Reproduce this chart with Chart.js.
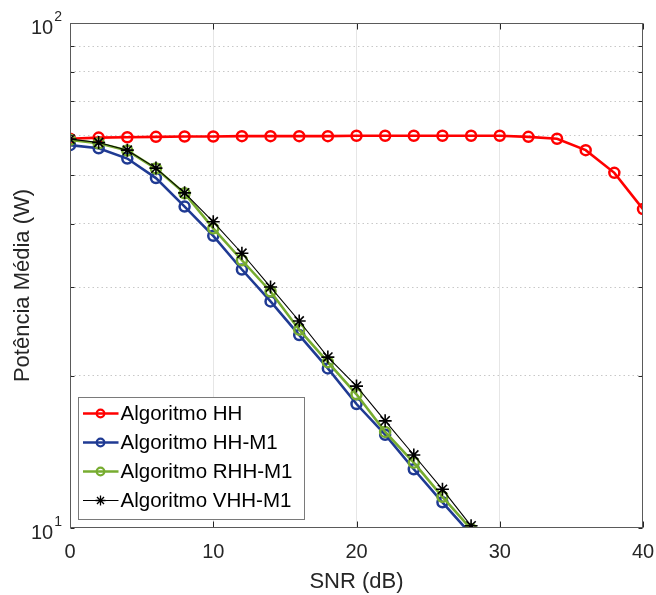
<!DOCTYPE html>
<html><head><meta charset="utf-8">
<script src="https://cdn.jsdelivr.net/npm/chart.js@4/dist/chart.umd.min.js"></script>
<style>html,body{margin:0;padding:0;background:#fff}canvas{display:block}</style>
</head><body>
<canvas id="c" width="656" height="595"></canvas>
<script>
// ---- data ----
const snrHH = [0,2,4,6,8,10,12,14,16,18,20,22,24,26,28,30,32,34,36,38,40];
const potHH = [59.0,59.3,59.4,59.5,59.6,59.6,59.7,59.7,59.7,59.7,59.8,59.8,59.8,59.8,59.8,59.8,59.5,59.0,56.0,50.5,42.8];
const snrM1 = [0,2,4,6,8,10,12,14,16,18,20,22,24,26,28];
const potHHM1  = [57.3,56.5,53.9,49.3,43.3,37.9,32.5,28.1,24.1,20.7,17.6,15.3,13.07,11.24,9.71];
const potRHHM1 = [58.7,57.8,55.9,51.5,46.0,39.2,33.9,29.4,24.7,21.3,18.4,15.5,13.47,11.53,9.95];
const potVHHM1 = [58.9,58.0,56.0,51.6,46.1,40.4,35.0,30.0,25.7,21.8,19.1,16.3,13.95,11.93,10.1];
const seriesNames = ['Algoritmo HH','Algoritmo HH-M1','Algoritmo RHH-M1','Algoritmo VHH-M1'];
const xTickValues = [0,10,20,30,40];
const yTickValues = [10,20,30,40,50,60,70,80,90,100];
const yLabelTicks = [10,100];
const yLabelBase = '10';
const yLabelExp = {10:'1', 100:'2'};
const xTitle = 'SNR (dB)';
const yTitle = 'Potência Média (W)';

const FONT = "'Liberation Sans', Arial, Helvetica, sans-serif";
const AXIS = '#262626';
const colors = ['#ff0000','#1f3a93','#77ac30','#000000'];

function pts(xs, ys){ return xs.map((x,i)=>({x:x, y:ys[i]})); }

const circleSet = (i) => ({
  borderColor: colors[i], backgroundColor: colors[i], borderWidth: 2.6,
  pointStyle: 'circle', pointRadius: 5, pointBorderWidth: 2.5,
  pointBackgroundColor: 'rgba(0,0,0,0)', pointBorderColor: colors[i]
});

const datasets = [
  Object.assign({label: seriesNames[0], data: pts(snrHH, potHH), order: 3}, circleSet(0)),
  Object.assign({label: seriesNames[1], data: pts(snrM1, potHHM1), order: 2}, circleSet(1)),
  Object.assign({label: seriesNames[2], data: pts(snrM1, potRHHM1), order: 1}, circleSet(2)),
  {label: seriesNames[3], data: pts(snrM1, potVHHM1), order: 0,
   borderColor: colors[3], backgroundColor: colors[3], borderWidth: 1.1,
   pointStyle: 'star', pointRadius: 6.5, pointBorderWidth: 1.6,
   pointBorderColor: colors[3], pointBackgroundColor: colors[3]}
];

const framePlugin = {
  id: 'frame',
  afterDatasetsDraw(chart){
    const ctx = chart.ctx, a = chart.chartArea;
    const xs = chart.scales.x, ys = chart.scales.y;
    ctx.save();
    ctx.strokeStyle = AXIS; ctx.lineWidth = 1;
    const L = Math.round(a.left)+0.5, R = Math.round(a.right)-0.5, T = Math.round(a.top)+0.5, B = Math.round(a.bottom)-0.5;
    ctx.beginPath();
    xTickValues.forEach(v => {
      const px = Math.round(xs.getPixelForValue(v)) + 0.5;
      ctx.moveTo(px, B); ctx.lineTo(px, B-6);
      ctx.moveTo(px, T); ctx.lineTo(px, T+6);
    });
    yTickValues.forEach(v => {
      const py = Math.round(ys.getPixelForValue(v)) + 0.5;
      ctx.moveTo(L, py); ctx.lineTo(L+4, py);
      ctx.moveTo(R, py); ctx.lineTo(R-4, py);
    });
    ctx.stroke();
    ctx.strokeStyle = '#5a5a5a';
    ctx.strokeRect(L, T, R-L, B-T);
    ctx.restore();
  },
  afterDraw(chart){
    const ctx = chart.ctx, a = chart.chartArea, ys = chart.scales.y;
    ctx.save();
    ctx.fillStyle = AXIS;
    ctx.textBaseline = 'middle';
    // y tick labels: base with superscript exponent
    yLabelTicks.forEach(v => {
      const py = ys.getPixelForValue(v);
      ctx.font = '14px ' + FONT;
      ctx.textAlign = 'right';
      const expW = ctx.measureText(yLabelExp[v]).width;
      const rightEdge = a.left - 8;
      ctx.fillText(yLabelExp[v], rightEdge, py - 6);
      ctx.font = '20px ' + FONT;
      ctx.fillText(yLabelBase, rightEdge - expW - 1, py + 5);
    });
    // y axis title
    ctx.font = '22px ' + FONT;
    ctx.textAlign = 'center';
    ctx.translate(23, (a.top + a.bottom) / 2 + 10);
    ctx.rotate(-Math.PI / 2);
    ctx.fillText(yTitle, 0, 0);
    ctx.restore();
  }
};

const legendPlugin = {
  id: 'boxLegend',
  afterDraw(chart){
    const ctx = chart.ctx, a = chart.chartArea;
    const left = Math.round(a.left) + 8.5, bottom = Math.round(a.bottom) - 8.5;
    const top = bottom - 122, right = left + 226;
    ctx.save();
    ctx.fillStyle = '#ffffff';
    ctx.fillRect(left, top, right-left, bottom-top);
    ctx.strokeStyle = '#7a7a7a'; ctx.lineWidth = 1;
    ctx.strokeRect(left, top, right-left, bottom-top);
    ctx.font = '20.5px ' + FONT;
    ctx.textBaseline = 'middle'; ctx.textAlign = 'left';
    chart.data.datasets.forEach((ds, i) => {
      const y = top + 16 + i*29;
      ctx.strokeStyle = ds.borderColor; ctx.lineWidth = ds.borderWidth;
      ctx.beginPath(); ctx.moveTo(left+4.5, y); ctx.lineTo(left+40, y); ctx.stroke();
      ctx.lineWidth = ds.pointStyle === 'star' ? 1.3 : 2.2;
      ctx.fillStyle = ds.pointBackgroundColor;
      Chart.helpers.drawPoint(ctx, {pointStyle: ds.pointStyle, radius: ds.pointStyle==='star'?5:3.8, rotation: 0, borderWidth: ctx.lineWidth}, left+22, y);
      ctx.fillStyle = '#000000';
      ctx.fillText(ds.label, left+42, y+1);
    });
    ctx.restore();
  }
};

new Chart(document.getElementById('c'), {
  type: 'line',
  data: { datasets: datasets },
  plugins: [framePlugin, legendPlugin],
  options: {
    responsive: false, animation: false, devicePixelRatio: 1,
    layout: { padding: { left: 0, right: 13, top: 23, bottom: 0 } },
    plugins: { legend: { display: false }, tooltip: { enabled: false } },
    elements: { line: { tension: 0 } },
    scales: {
      x: {
        type: 'linear', min: 0, max: 40,
        afterBuildTicks: s => { s.ticks = xTickValues.map(v => ({value: v})); },
        afterFit: s => { s.height = 67; s.paddingLeft = 0; s.paddingRight = 0; },
        ticks: { color: AXIS, font: { family: FONT, size: 20 }, padding: 12, maxRotation: 0, autoSkip: false },
        grid: { drawTicks: false, color: ctx => (ctx.tick && (ctx.tick.value === 0 || ctx.tick.value === 40)) ? 'rgba(0,0,0,0)' : '#e6e6e6', lineWidth: 1 },
        border: { display: false },
        title: { display: true, text: xTitle, color: AXIS, font: { family: FONT, size: 22 }, padding: { top: 0, bottom: 0 } }
      },
      y: {
        type: 'logarithmic', min: 10, max: 100,
        afterBuildTicks: s => { s.ticks = yTickValues.map(v => ({value: v})); },
        afterFit: s => { s.width = 70; s.paddingTop = 0; s.paddingBottom = 0; },
        ticks: { display: false },
        grid: { drawTicks: false, color: ctx => (ctx.tick && (ctx.tick.value === 10 || ctx.tick.value === 100)) ? 'rgba(0,0,0,0)' : '#c8c8c8', lineWidth: 1 },
        border: { display: false, dash: [1.5, 3] },
        title: { display: false }
      }
    }
  }
});
</script>
</body></html>
